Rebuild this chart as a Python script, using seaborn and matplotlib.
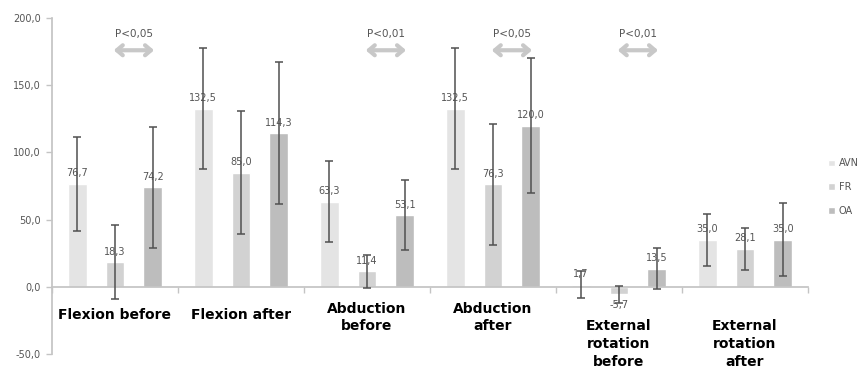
import matplotlib
matplotlib.use("Agg")
import matplotlib.pyplot as plt
import seaborn as sns
import pandas as pd
from matplotlib.ticker import FuncFormatter, FixedLocator

# ---- data ----
categories = ["Flexion before", "Flexion after", "Abduction\nbefore", "Abduction\nafter",
              "External\nrotation\nbefore", "External\nrotation\nafter"]
groups = ["AVN", "FR", "OA"]
avn_vals = [76.7, 132.5, 63.3, 132.5, 1.7, 35.0]
fr_vals = [18.3, 85.0, 11.4, 76.3, -5.7, 28.1]
oa_vals = [74.2, 114.3, 53.1, 120.0, 13.5, 35.0]
avn_err = [35.0, 45.0, 30.0, 45.0, 10.0, 19.5]
fr_err = [27.5, 46.0, 12.0, 45.0, 6.0, 15.5]
oa_err = [45.0, 53.0, 26.0, 50.0, 15.5, 27.0]
p_labels = ["P<0,05", "P<0,01", "P<0,05", "P<0,01"]
p_categories = [0, 2, 3, 4]  # comparison FR vs OA within these categories
y_ticks = [-50, 0, 50, 100, 150, 200]

# ---- styling ----
colors = ["#e4e4e4", "#d2d2d2", "#bdbdbd"]
sns.set_theme(style="white")
plt.rcParams["font.family"] = ["DejaVu Sans"]
text_gray = "#555555"
axis_gray = "#c4c4c4"

vals = {"AVN": avn_vals, "FR": fr_vals, "OA": oa_vals}
errs = {"AVN": avn_err, "FR": fr_err, "OA": oa_err}
rows = []
for g in groups:
    for c, v in zip(categories, vals[g]):
        rows.append({"cat": c, "group": g, "val": v})
df = pd.DataFrame(rows)

fig = plt.figure(figsize=(8.62, 3.74), dpi=100)
ax = fig.add_axes([52 / 862, 20 / 374, 756 / 862, 336 / 374])

sns.barplot(data=df, x="cat", y="val", hue="group", order=categories, hue_order=groups,
            palette=colors, width=0.9, gap=0.5, errorbar=None, ax=ax, legend=True)

ax.set_xlim(-0.5, 5.5)
ax.set_ylim(-50, 200)

# value labels and error bars
for g, cont in zip(groups, ax.containers):
    labels = [f"{v:.1f}".replace(".", ",") for v in vals[g]]
    ax.bar_label(cont, labels=labels, padding=4, fontsize=7, color=text_gray)
    xs = [p.get_x() + p.get_width() / 2 for p in cont.patches]
    ax.errorbar(xs, vals[g], yerr=errs[g], fmt="none", ecolor="#505050",
                elinewidth=1.1, capsize=3, capthick=1.1, zorder=5)

# significance arrows (FR vs OA)
fr_cont, oa_cont = ax.containers[1], ax.containers[2]
for lab, ci in zip(p_labels, p_categories):
    p1 = fr_cont.patches[ci]
    p2 = oa_cont.patches[ci]
    x1 = p1.get_x() + p1.get_width() / 2
    x2 = p2.get_x() + p2.get_width() / 2
    ax.annotate("", xy=(x1 - 0.01, 176), xytext=(x2 + 0.01, 176),
                arrowprops=dict(arrowstyle="<->,head_length=0.35,head_width=0.3",
                                color="#c8c8c8", lw=3, shrinkA=0, shrinkB=0),
                annotation_clip=False)
    ax.text((x1 + x2) / 2, 188, lab, ha="center", va="center", fontsize=7.5, color=text_gray)

# spines / ticks
sns.despine(ax=ax, top=True, right=True)
ax.spines["left"].set_color(axis_gray)
ax.spines["bottom"].set_color(axis_gray)
ax.spines["bottom"].set_position(("data", 0))
ax.set_yticks(y_ticks)
ax.yaxis.set_major_formatter(FuncFormatter(lambda v, _: f"{v:.1f}".replace(".", ",")))
ax.tick_params(axis="y", direction="out", length=4, width=1, color=axis_gray,
               labelsize=7, labelcolor=text_gray, left=True, pad=4)
ax.set_xticks([])
ax.xaxis.set_minor_locator(FixedLocator([i + 0.5 for i in range(-1, 6)]))
ax.tick_params(axis="x", which="minor", direction="out", length=4, width=1,
               color=axis_gray, bottom=True)
ax.set_xlabel("")
ax.set_ylabel("")

# category labels
label_y = [-16, -16, -11, -11, -24, -24]
for i, (c, yy) in enumerate(zip(categories, label_y)):
    ax.text(i, yy, c, ha="center", va="top", fontsize=10, fontweight="bold",
            color="black", linespacing=1.35, clip_on=False)

# legend
leg = ax.legend(loc="center left", bbox_to_anchor=(828 / 862, 0.5),
                bbox_transform=fig.transFigure, frameon=False, fontsize=7,
                handlelength=0.7, handleheight=0.7, handletextpad=0.4,
                labelspacing=1.4, borderpad=0, borderaxespad=0)
for t in leg.get_texts():
    t.set_color(text_gray)

fig.savefig("out.png", dpi=100)
